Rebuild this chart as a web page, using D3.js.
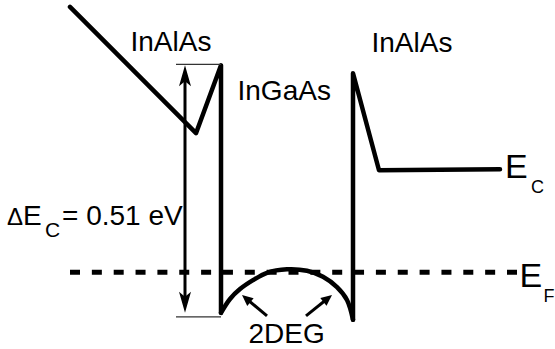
<!DOCTYPE html>
<html lang="en">
<head>
    <meta charset="UTF-8">
    <title>InAlAs/InGaAs band diagram</title>
    <style>
        body { margin: 0; background: #fff; }
        svg { display: block; }
        text { font-family: "Liberation Sans", Arial, sans-serif; fill: #000; }
    </style>
</head>
<body>
    <div id="chart"></div>
    <script src="https://d3js.org/d3.v7.min.js"></script>
    <script>
        // position in nm (0 = left edge of the InGaAs well), energy in eV (0 = Fermi level)
        const bandLeftX = [-15.1, -2.5, 0, 0];
        const bandLeftE = [0.536, 0.281, 0.418, -0.082];
        const wellX = [0, 0.9, 1.9, 3.2, 4.6, 6.6, 8.6, 10.2, 11.6, 12.6, 13.2];
        const wellE = [-0.082, -0.054, -0.034, -0.016, -0.001, 0.006, 0.003, -0.009, -0.030, -0.056, -0.096];
        const bandRightX = [13.2, 13.2, 15.8, 27.9];
        const bandRightE = [-0.096, 0.402, 0.206, 0.208];
        const fermiX = [-15.1, 29.6];
        const fermiE = 0;
        const deltaEc = 0.51;
        const deltaTopE = 0.42;
        const deltaX = -3.6;
        const deltaRefX = [-4.5, 0];
        const twoDegTailX = [4.6, 8.5];
        const twoDegTipX = [2.1, 11.1];
        const twoDegTailE = -0.088;
        const twoDegTipE = -0.046;

        const width = 555, height = 349;

        const svg = d3.select('#chart').append('svg')
            .attr('width', width)
            .attr('height', height);

        const x = d3.scaleLinear().domain([-22.1, 33.4]).range([0, width]);
        const y = d3.scaleLinear().domain([-0.155, 0.55]).range([height, 0]);

        const zip = (xs, es) => xs.map((v, i) => [v, es[i]]);
        const line = d3.line().x(d => x(d[0])).y(d => y(d[1]));
        const smooth = d3.line().x(d => x(d[0])).y(d => y(d[1])).curve(d3.curveCatmullRom.alpha(0.5));

        // Fermi level
        svg.append('line')
            .attr('x1', x(fermiX[0])).attr('x2', x(fermiX[1]))
            .attr('y1', y(fermiE)).attr('y2', y(fermiE))
            .attr('stroke', '#000')
            .attr('stroke-width', 5)
            .attr('stroke-dasharray', '10,11.85');

        // conduction band edge
        const band = svg.append('g')
            .attr('fill', 'none')
            .attr('stroke', '#000')
            .attr('stroke-width', 4.5)
            .attr('stroke-linejoin', 'round')
            .attr('stroke-linecap', 'round');
        band.append('path').attr('d', line(zip(bandLeftX, bandLeftE)));
        band.append('path').attr('d', smooth(zip(wellX, wellE)));
        band.append('path').attr('d', line(zip(bandRightX, bandRightE)));

        // delta Ec reference lines
        [deltaTopE, deltaTopE - deltaEc].forEach(e => {
            svg.append('line')
                .attr('x1', x(deltaRefX[0])).attr('x2', x(deltaRefX[1]))
                .attr('y1', y(e)).attr('y2', y(e))
                .attr('stroke', '#333')
                .attr('stroke-width', 1.3);
        });

        function arrowHead(px, py, angle, len, w, notch) {
            const path = d3.path();
            path.moveTo(0, 0);
            path.lineTo(-len, -w / 2);
            path.lineTo(-len + notch, 0);
            path.lineTo(-len, w / 2);
            path.closePath();
            svg.append('path')
                .attr('d', path.toString())
                .attr('fill', '#000')
                .attr('transform', `translate(${px},${py}) rotate(${angle})`);
        }

        // double arrow for delta Ec
        const ax = x(deltaX), aTop = y(deltaTopE) + 1, aBot = y(deltaTopE - deltaEc) - 4;
        svg.append('line')
            .attr('x1', ax).attr('x2', ax)
            .attr('y1', aTop + 10).attr('y2', aBot - 10)
            .attr('stroke', '#000').attr('stroke-width', 3);
        arrowHead(ax, aTop, -90, 21, 12, 5);
        arrowHead(ax, aBot, 90, 21, 12, 5);

        // 2DEG arrows
        twoDegTailX.forEach((tx, i) => {
            const x1 = x(tx), y1 = y(twoDegTailE), x2 = x(twoDegTipX[i]), y2 = y(twoDegTipE);
            const ang = Math.atan2(y2 - y1, x2 - x1);
            svg.append('line')
                .attr('x1', x1).attr('y1', y1)
                .attr('x2', x2 - 6 * Math.cos(ang)).attr('y2', y2 - 6 * Math.sin(ang))
                .attr('stroke', '#000').attr('stroke-width', 3);
            arrowHead(x2, y2, ang * 180 / Math.PI, 11, 10, 0);
        });

        // labels
        const label = (t, px, py, size) => svg.append('text')
            .attr('x', px).attr('y', py)
            .style('font-size', size + 'px')
            .text(t);

        label('InAlAs', 130.5, 51, 28);
        label('InGaAs', 237.5, 100, 28);
        label('InAlAs', 371.5, 52, 28);
        label('2DEG', 248.5, 343, 28);

        const bandEnd = bandRightX.length - 1;
        label('E', x(bandRightX[bandEnd]) + 5, y(bandRightE[bandEnd]) + 9, 34);
        label('C', x(bandRightX[bandEnd]) + 31, y(bandRightE[bandEnd]) + 24, 18);
        label('E', x(fermiX[1]) + 2.5, y(fermiE) + 14.5, 34);
        label('F', x(fermiX[1]) + 26.5, y(fermiE) + 29.5, 18);

        // delta Ec label
        label('\u0394', 7, 225, 24);
        label('E', 23, 225, 28);
        label('C', 45, 237, 21);
        label('= 0.51 eV', 62, 225, 28);
    </script>
</body>
</html>
